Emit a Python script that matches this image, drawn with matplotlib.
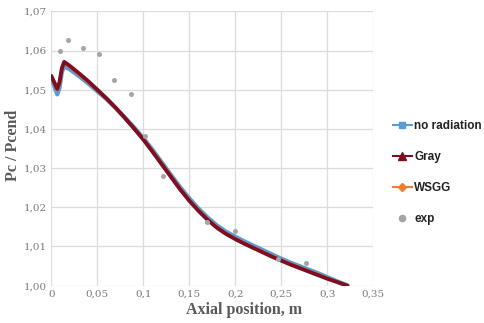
import matplotlib
matplotlib.use("Agg")
import matplotlib.pyplot as plt
from matplotlib.ticker import FuncFormatter
from matplotlib.lines import Line2D

# Data
x_sim = [0, 0.003, 0.0065, 0.009, 0.0115, 0.014, 0.02, 0.03, 0.04, 0.05, 0.06, 0.07,
         0.08, 0.09, 0.10, 0.11, 0.12, 0.13, 0.14, 0.15, 0.16, 0.17, 0.18, 0.19, 0.20,
         0.21, 0.22, 0.23, 0.24, 0.25, 0.26, 0.27, 0.28, 0.29, 0.30, 0.31, 0.322]
gray = [1.0535, 1.0520, 1.0502, 1.0520, 1.0555, 1.0571, 1.0561, 1.0542, 1.0522, 1.0500,
        1.0478, 1.0454, 1.0428, 1.0401, 1.0373, 1.0342, 1.0310, 1.0278, 1.0246, 1.0217,
        1.0191, 1.0168, 1.0148, 1.0132, 1.0119, 1.0107, 1.0096, 1.0085, 1.0074, 1.0064,
        1.0054, 1.0045, 1.0036, 1.0027, 1.0018, 1.0010, 1.0000]
no_radiation = [1.0532, 1.0510, 1.0488, 1.0505, 1.0545, 1.0560, 1.0552, 1.0535, 1.0516, 1.0496,
                1.0476, 1.0453, 1.0429, 1.0404, 1.0377, 1.0347, 1.0315, 1.0283, 1.0252, 1.0223,
                1.0197, 1.0174, 1.0154, 1.0138, 1.0125, 1.0113, 1.0102, 1.0091, 1.0080, 1.0069,
                1.0059, 1.0050, 1.0041, 1.0032, 1.0022, 1.0012, 1.0001]
wsgg = [1.0534, 1.0518, 1.0500, 1.0518, 1.0553, 1.0569, 1.0559, 1.0540, 1.0520, 1.0499,
        1.0477, 1.0454, 1.0428, 1.0402, 1.0374, 1.0343, 1.0311, 1.0279, 1.0247, 1.0218,
        1.0192, 1.0169, 1.0149, 1.0133, 1.0120, 1.0108, 1.0097, 1.0086, 1.0075, 1.0065,
        1.0055, 1.0046, 1.0037, 1.0028, 1.0019, 1.0010, 1.0000]
x_exp = [0.0095, 0.018, 0.035, 0.052, 0.068, 0.087, 0.102, 0.121, 0.169, 0.200, 0.246, 0.2765]
y_exp = [1.0600, 1.0626, 1.0607, 1.0590, 1.0526, 1.0489, 1.0383, 1.0281, 1.0162, 1.0140, 1.0068, 1.0058]

x_ticks = [0, 0.05, 0.1, 0.15, 0.2, 0.25, 0.3, 0.35]
y_ticks = [1.00, 1.01, 1.02, 1.03, 1.04, 1.05, 1.06, 1.07]
legend_labels = ['no radiation', 'Gray', 'WSGG', 'exp']

BLUE = '#5B9BD5'
RED = '#7E0F22'
ORANGE = '#ED7D31'
GREY = '#A5A5A5'

fig = plt.figure(figsize=(4.84, 3.23), dpi=100)
ax = fig.add_axes([0.106, 0.1155, 0.665, 0.8495])

ax.plot(x_sim, no_radiation, color=BLUE, lw=3.0, solid_joinstyle='round',
        solid_capstyle='round', zorder=3)
ax.plot(x_sim, wsgg, color=ORANGE, lw=2.5, solid_joinstyle='round', zorder=3.5)
ax.plot(x_sim, gray, color=RED, lw=2.8, solid_joinstyle='round',
        solid_capstyle='round', zorder=4)
ax.scatter(x_exp, y_exp, s=13, color=GREY, zorder=5, linewidths=0)

ax.set_xlim(0, 0.35)
ax.set_ylim(1.00, 1.07)
ax.set_xticks(x_ticks)
ax.set_yticks(y_ticks)

def fmt_x(v, pos):
    return ('%g' % v).replace('.', ',')
def fmt_y(v, pos):
    return ('%.2f' % v).replace('.', ',')
ax.xaxis.set_major_formatter(FuncFormatter(fmt_x))
ax.yaxis.set_major_formatter(FuncFormatter(fmt_y))

ax.grid(True, color='#DCDCDC', lw=0.9)
ax.set_axisbelow(True)
for sp in ax.spines.values():
    sp.set_visible(False)
ax.tick_params(length=0, labelsize=7.5, labelcolor='#7A7A7A', pad=3)
for lab in ax.get_xticklabels() + ax.get_yticklabels():
    lab.set_family('DejaVu Serif')

ax.set_xlabel('Axial position, m', family='Liberation Serif', fontweight='bold',
              fontsize=11.5, color='#595959')
ax.set_ylabel('Pc / Pcend', family='Liberation Serif', fontweight='bold',
              fontsize=11.5, color='#595959')
ax.xaxis.set_label_coords(0.598, -0.058)
ax.yaxis.set_label_coords(-0.095, 0.513)

handles = [
    Line2D([], [], color=BLUE, lw=1.5, marker='s', ms=5),
    Line2D([], [], color=RED, lw=1.5, marker='^', ms=5.5),
    Line2D([], [], color=ORANGE, lw=1.5, marker='D', ms=4),
    Line2D([], [], color=GREY, lw=0, marker='o', ms=4.5),
]
fig.legend(handles, legend_labels, loc='center left', bbox_to_anchor=(0.79, 0.466),
           frameon=False, handlelength=1.6, handletextpad=0.2, labelspacing=1.6,
           prop={'family': 'Liberation Sans', 'weight': 'bold', 'size': 8.5},
           labelcolor='#222222')

fig.savefig('out.png', dpi=100)
